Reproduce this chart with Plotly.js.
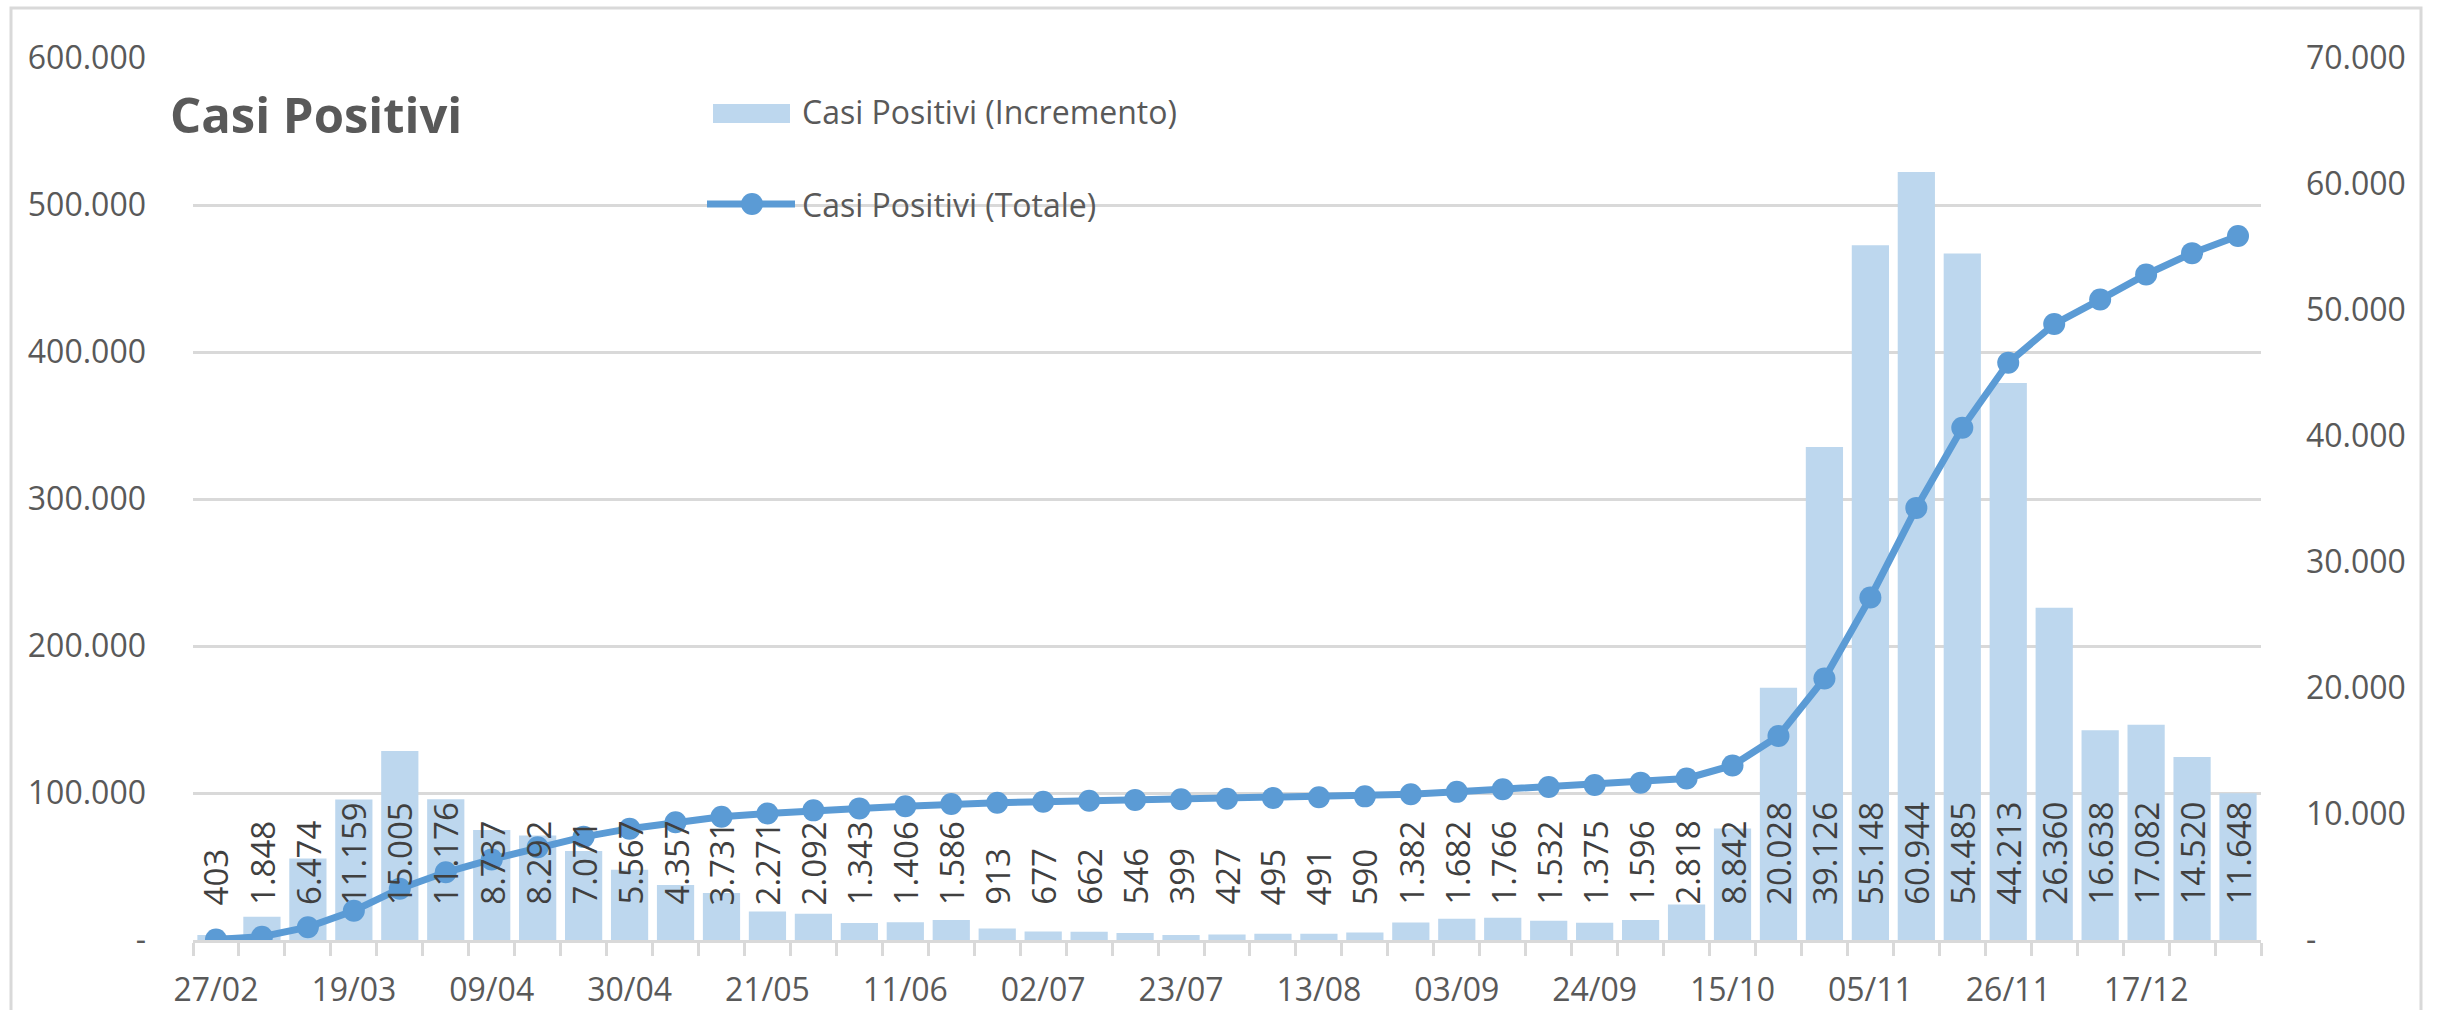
<!DOCTYPE html>
<html>
<head>
<meta charset="utf-8">
<script src="https://cdn.plot.ly/plotly-3.0.1.min.js"></script>
<style>
  html, body { margin: 0; padding: 0; background: #ffffff; }
  #chart { width: 2438px; height: 1010px; }
</style>
</head>
<body>
<div id="chart"></div>
<script>
// ---- DATA ----
const chartTitle = "Casi Positivi";
const barName = "Casi Positivi (Incremento)";
const lineName = "Casi Positivi (Totale)";

const dates = ["27/02","05/03","12/03","19/03","26/03","02/04","09/04","16/04","23/04","30/04",
  "07/05","14/05","21/05","28/05","04/06","11/06","18/06","25/06","02/07","09/07",
  "16/07","23/07","30/07","06/08","13/08","20/08","27/08","03/09","10/09","17/09",
  "24/09","01/10","08/10","15/10","22/10","29/10","05/11","12/11","19/11","26/11",
  "03/12","10/12","17/12","24/12","31/12"];

const increments = [403,1848,6474,11159,15005,11176,8737,8292,7071,5567,
  4357,3731,2271,2092,1343,1406,1586,913,677,662,
  546,399,427,495,491,590,1382,1682,1766,1532,
  1375,1596,2818,8842,20028,39126,55148,60944,54485,44213,
  26360,16638,17082,14520,11648];

const totals = [403,2251,8725,19884,34889,46065,54802,63094,70165,75732,
  80089,83820,86091,88183,89526,90932,92518,93431,94108,94770,
  95316,95715,96142,96637,97128,97718,99100,100782,102548,104080,
  105455,107051,109869,118711,138739,177865,233013,293957,348442,392655,
  419015,435653,452735,467255,478903];

const leftTickVals = [0,100000,200000,300000,400000,500000,600000];
const leftTickText = ["-","100.000","200.000","300.000","400.000","500.000","600.000"];
const rightTickVals = [0,10000,20000,30000,40000,50000,60000,70000];
const rightTickText = ["-","10.000","20.000","30.000","40.000","50.000","60.000","70.000"];

// ---- LAYOUT HELPERS ----
const W = 2438, H = 1010;
const M = {l: 193, r: 177, t: 58, b: 70};
const PW = W - M.l - M.r, PH = H - M.t - M.b;
const px = x => (x - M.l) / PW;
const py = y => (H - M.b - y) / PH;

const fmt = n => String(n).replace(/\B(?=(\d{3})+(?!\d))/g, ".");
const idx = dates.map((d, i) => i);
const labelIdx = idx.filter(i => i % 3 === 0);

const textGray = "#595959";
const gridGray = "#d9d9d9";
const barColor = "#BDD7EE";
const lineColor = "#5B9BD5";
const FONT = "Open Sans, Noto Sans, sans-serif";

const barTrace = {
  type: "bar", name: barName, x: idx, y: increments,
  xaxis: "x", yaxis: "y",
  marker: {color: barColor}, hoverinfo: "skip", showlegend: false
};
const lineTrace = {
  type: "scatter", mode: "lines+markers", name: lineName, x: idx, y: totals,
  xaxis: "x", yaxis: "y2",
  line: {color: lineColor, width: 7},
  marker: {color: lineColor, size: 22},
  hoverinfo: "skip", showlegend: false
};

const dataLabels = idx.map(i => ({
  x: i, y: 0, xref: "x", yref: "y",
  text: fmt(increments[i]), showarrow: false,
  textangle: -90, yanchor: "bottom", xanchor: "center",
  yshift: 33,
  font: {family: FONT, size: 33, color: "#404040"}
}));

const legendAnn = [
  {x: px(800), y: py(112), xref: "paper", yref: "paper", xanchor: "left", yanchor: "middle",
   text: barName, showarrow: false, font: {family: FONT, size: 32, color: textGray}},
  {x: px(800), y: py(204), xref: "paper", yref: "paper", xanchor: "left", yanchor: "middle",
   text: lineName, showarrow: false, font: {family: FONT, size: 32, color: textGray}}
];

const shapes = [
  // chart frame
  {type: "rect", xref: "paper", yref: "paper", x0: px(11), x1: px(2421), y0: py(1020), y1: py(8),
   line: {color: gridGray, width: 3}, fillcolor: "rgba(0,0,0,0)", layer: "below"},
  // legend swatches
  {type: "rect", xref: "paper", yref: "paper", x0: px(713), x1: px(790), y0: py(123), y1: py(104),
   line: {width: 0}, fillcolor: barColor},
  {type: "line", xref: "paper", yref: "paper", x0: px(707), x1: px(795), y0: py(204), y1: py(204),
   line: {color: lineColor, width: 7}},
  {type: "circle", xref: "paper", yref: "paper", x0: px(741), x1: px(763), y0: py(215), y1: py(193),
   line: {width: 0}, fillcolor: lineColor}
];

const layout = {
  width: W, height: H,
  margin: M,
  paper_bgcolor: "#ffffff", plot_bgcolor: "rgba(0,0,0,0)",
  font: {family: FONT, color: textGray, size: 30},
  showlegend: false,
  bargap: 0.19,
  title: {
    text: chartTitle, xref: "container", yref: "container",
    x: 170 / W, xanchor: "left", y: 1 - 116 / H, yanchor: "middle",
    font: {family: FONT, size: 49, weight: 700, color: textGray}
  },
  xaxis: {
    range: [-0.5, dates.length - 0.5],
    tickmode: "array", tickvals: labelIdx, ticktext: labelIdx.map(i => dates[i]),
    ticks: "", ticklabelstandoff: 20,
    tickfont: {family: FONT, size: 32, color: textGray},
    showgrid: false, zeroline: false,
    showline: true, linecolor: gridGray, linewidth: 3,
    minor: {
      tickmode: "array", tickvals: idx.map(i => i - 0.5).concat([dates.length - 0.5]),
      ticks: "outside", ticklen: 13, tickwidth: 3, tickcolor: gridGray, showgrid: false
    },
    fixedrange: true
  },
  yaxis: {
    range: [0, 70000], side: "right",
    tickmode: "array", tickvals: rightTickVals, ticktext: rightTickText,
    ticks: "", ticklabelstandoff: 44,
    tickfont: {family: FONT, size: 32, color: textGray},
    showgrid: false, zeroline: false, showline: false, fixedrange: true
  },
  yaxis2: {
    range: [0, 600000], side: "left", overlaying: "y",
    tickmode: "array", tickvals: leftTickVals, ticktext: leftTickText,
    ticks: "", ticklabelstandoff: 46,
    tickfont: {family: FONT, size: 32, color: textGray},
    showgrid: true, gridcolor: gridGray, gridwidth: 3,
    zeroline: false, showline: false, fixedrange: true
  },
  annotations: dataLabels.concat(legendAnn),
  shapes: shapes
};

Plotly.newPlot("chart", [barTrace, lineTrace], layout, {displayModeBar: false, staticPlot: true});
</script>
</body>
</html>
